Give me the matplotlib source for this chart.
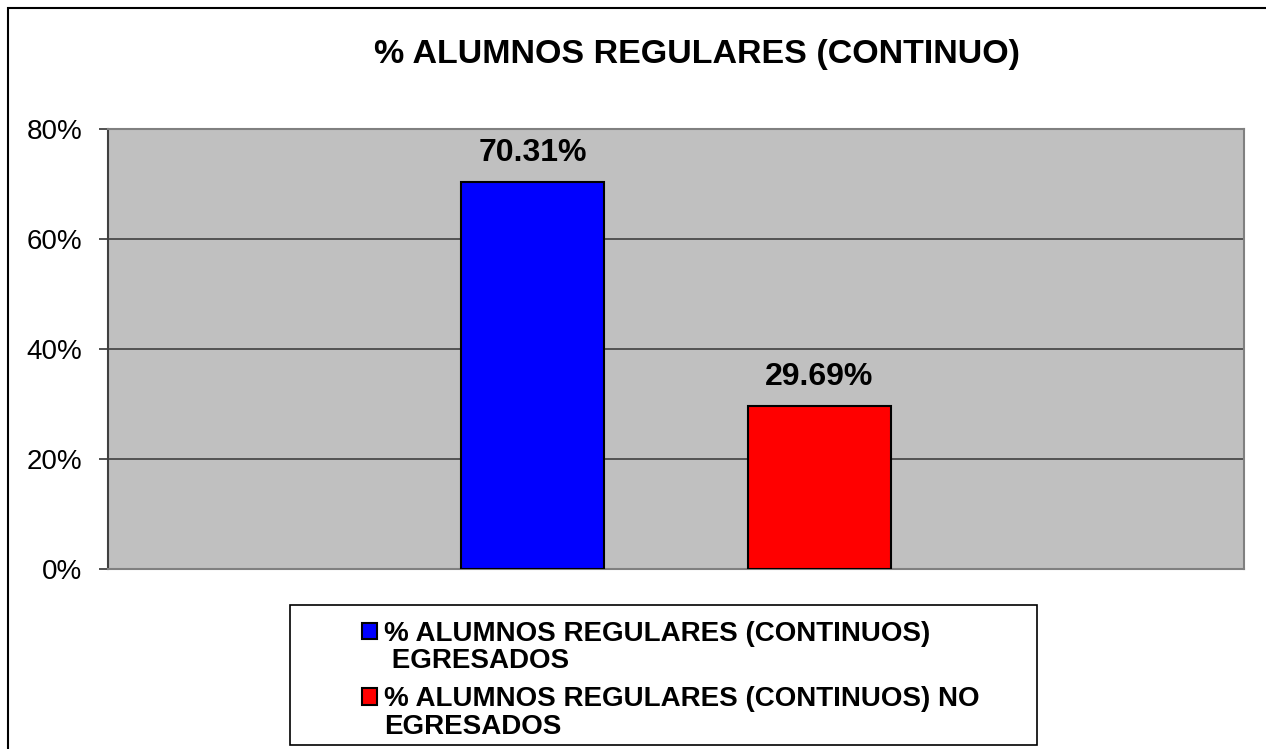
#!/usr/bin/env python3
# -*- coding: utf-8 -*-
"""Bar chart: % alumnos regulares (continuo), egresados vs no egresados."""

import numpy as np
import matplotlib
matplotlib.use("Agg")
import matplotlib.pyplot as plt
from matplotlib.patches import Rectangle
from matplotlib.container import BarContainer
from matplotlib.legend_handler import HandlerPatch, update_from_first_child
from matplotlib.ticker import PercentFormatter

TITLE = "% ALUMNOS REGULARES (CONTINUO)"
CATEGORIES = [""]
SERIES_LABELS = [
    "% ALUMNOS REGULARES (CONTINUOS)\n EGRESADOS",
    "% ALUMNOS REGULARES (CONTINUOS) NO\nEGRESADOS",
]
SERIES_VALUES = [
    [70.31],
    [29.69],
]
SERIES_COLORS = ["#0000FF", "#FF0000"]
Y_TICKS = [0, 20, 40, 60, 80]

plt.rcParams.update({
    "font.family": ["Liberation Sans", "DejaVu Sans"],
})

W, H = 1266, 749
fig = plt.figure(figsize=(W / 100, H / 100), dpi=100)
fig.patch.set_facecolor("white")

# outer chart border (left/top visible only)
fig.patches.append(Rectangle((8 / W, -0.05), 1.1, 1 - 8 / H + 0.05,
                             transform=fig.transFigure, fill=False,
                             edgecolor="black", linewidth=1.5))

ax = fig.add_axes([108 / W, 1 - 569 / H, 1136 / W, 440 / H])
ax.set_facecolor("#C0C0C0")

x = np.arange(len(CATEGORIES))
bar_w = 0.126
for i, (lab, vals) in enumerate(zip(SERIES_LABELS, SERIES_VALUES)):
    offset = (i - (len(SERIES_VALUES) - 1) / 2) * 2 * bar_w
    bars = ax.bar(x + offset, vals, width=bar_w, label=lab,
                  color=SERIES_COLORS[i], edgecolor="black", linewidth=1.5,
                  zorder=3)
    ax.bar_label(bars, labels=[f"{v:.2f}%" for v in vals], padding=10,
                 fontsize=23, fontweight="bold", color="black")

ax.set_xlim(-0.5, 0.5)
ax.set_ylim(0, 80)
ax.set_yticks(Y_TICKS)
ax.yaxis.set_major_formatter(PercentFormatter(decimals=0))
ax.set_xticks([])
ax.tick_params(axis="y", labelsize=20, length=6.5, width=1.2, pad=12,
               color="#333333")
ax.grid(axis="y", color="#404040", linewidth=1.2, zorder=1)
ax.set_axisbelow(True)
for side in ("top", "right", "bottom"):
    ax.spines[side].set_color("#808080")
    ax.spines[side].set_linewidth(1.5)
ax.spines["left"].set_color("#404040")
ax.spines["left"].set_linewidth(1.5)

fig.text(697 / W, 1 - 55 / H, TITLE, ha="center", va="center",
         fontsize=24.5, fontweight="bold")


# legend: square marker sits on the first text line
def top_square(legend, orig_handle, xdescent, ydescent, width, height,
               fontsize):
    return Rectangle((-xdescent, -ydescent + 0.6 * fontsize), width, height)


fig.patches.append(Rectangle((290 / W, 1 - 745 / H), 747 / W, 140 / H,
                             transform=fig.transFigure, facecolor="white",
                             edgecolor="black", linewidth=1.2))
leg = fig.legend(loc="upper left", bbox_to_anchor=(362 / W, 1 - 621 / H),
                 frameon=False, prop={"size": 20, "weight": "bold"},
                 handlelength=0.55, handleheight=0.55, handletextpad=0.25,
                 labelspacing=0.45, borderpad=0, borderaxespad=0,
                 handler_map={BarContainer: HandlerPatch(
                     patch_func=top_square,
                     update_func=update_from_first_child)})
for t in leg.get_texts():
    t.set_linespacing(1.05)

fig.savefig("out.png", dpi=100)
